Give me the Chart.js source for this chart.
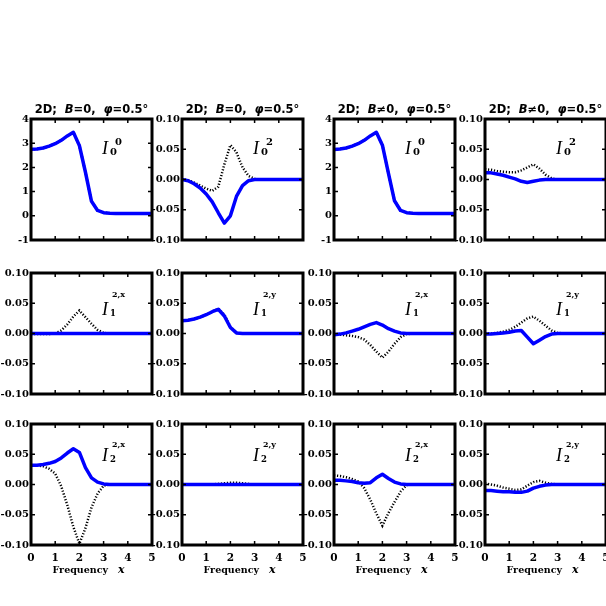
<!DOCTYPE html>
<html>
<head>
<meta charset="utf-8">
<script src="https://cdn.jsdelivr.net/npm/chart.js@4"></script>
<style>
html, body { margin: 0; padding: 0; background: #fff; overflow: hidden; width: 606px; height: 606px; position: relative; }
canvas { position: absolute; top: 0; }
</style>
</head>
<body>
<div id="wrap"></div>
<script>
// frequency grid (x)
const freq = [0, 0.25, 0.5, 0.75, 1, 1.25, 1.5, 1.75, 2, 2.25, 2.5, 2.75, 3, 3.25, 3.5, 3.75, 4, 4.25, 4.5, 4.75, 5];

// tick labels
const xTicks = [0, 1, 2, 3, 4, 5];
const yTicksI00 = [-1, 0, 1, 2, 3, 4];
const yTicksSmall = [-0.10, -0.05, 0.00, 0.05, 0.10];

// column headers
const fieldText = ['=0', '=0', '\u22600', '\u22600'];

// row 1 : I_0^0 and I_0^2
const i00_B0_solid  = [2.75, 2.76, 2.80, 2.88, 2.98, 3.12, 3.30, 3.45, 2.90, 1.80, 0.60, 0.22, 0.13, 0.11, 0.10, 0.10, 0.09, 0.09, 0.09, 0.09, 0.09];
const i00_B0_dot    = [2.74, 2.76, 2.80, 2.88, 2.98, 3.12, 3.30, 3.45, 2.90, 1.80, 0.60, 0.22, 0.13, 0.11, 0.10, 0.10, 0.09, 0.09, 0.09, 0.09, 0.09];
const i02_B0_solid  = [0, -0.002, -0.007, -0.014, -0.024, -0.037, -0.055, -0.072, -0.060, -0.028, -0.010, -0.002, 0, 0, 0, 0, 0, 0, 0, 0, 0];
const i02_B0_dot    = [0, -0.001, -0.005, -0.010, -0.015, -0.019, -0.012, 0.025, 0.057, 0.045, 0.020, 0.006, 0.001, 0, 0, 0, 0, 0, 0, 0, 0];
const i00_B1_solid  = [2.74, 2.76, 2.80, 2.88, 2.98, 3.12, 3.30, 3.45, 2.92, 1.75, 0.62, 0.22, 0.13, 0.11, 0.10, 0.10, 0.09, 0.09, 0.09, 0.09, 0.09];
const i00_B1_dot    = [2.73, 2.76, 2.80, 2.88, 2.98, 3.12, 3.30, 3.45, 2.92, 1.75, 0.62, 0.22, 0.13, 0.11, 0.10, 0.10, 0.09, 0.09, 0.09, 0.09, 0.09];
const i02_B1_solid  = [0.011, 0.011, 0.009, 0.007, 0.004, 0.001, -0.003, -0.005, -0.003, -0.001, 0, 0, 0, 0, 0, 0, 0, 0, 0, 0, 0];
const i02_B1_dot    = [0.017, 0.016, 0.014, 0.013, 0.012, 0.012, 0.015, 0.020, 0.025, 0.018, 0.008, 0.002, 0, 0, 0, 0, 0, 0, 0, 0, 0];

// row 2 : I_1^{2,x} and I_1^{2,y}
const i12x_B0_solid = [0, 0, 0, 0, 0, 0, 0, 0, 0, 0, 0, 0, 0, 0, 0, 0, 0, 0, 0, 0, 0];
const i12x_B0_dot   = [-0.001, -0.001, -0.001, -0.001, 0, 0.005, 0.015, 0.028, 0.038, 0.027, 0.016, 0.006, 0.001, 0, 0, 0, 0, 0, 0, 0, 0];
const i12y_B0_solid = [0.021, 0.022, 0.024, 0.027, 0.031, 0.036, 0.040, 0.029, 0.010, 0.001, 0, 0, 0, 0, 0, 0, 0, 0, 0, 0, 0];
const i12y_B0_dot   = [0.021, 0.022, 0.024, 0.027, 0.031, 0.036, 0.041, 0.031, 0.011, 0.001, 0, 0, 0, 0, 0, 0, 0, 0, 0, 0, 0];
const i12x_B1_solid = [-0.002, -0.001, 0.001, 0.004, 0.007, 0.011, 0.015, 0.018, 0.014, 0.008, 0.004, 0.001, 0, 0, 0, 0, 0, 0, 0, 0, 0];
const i12x_B1_dot   = [-0.002, -0.002, -0.003, -0.004, -0.006, -0.010, -0.019, -0.030, -0.040, -0.030, -0.017, -0.006, -0.001, 0, 0, 0, 0, 0, 0, 0, 0];
const i12y_B1_solid = [-0.001, -0.001, 0, 0.001, 0.002, 0.004, 0.005, -0.006, -0.017, -0.011, -0.005, -0.001, 0, 0, 0, 0, 0, 0, 0, 0, 0];
const i12y_B1_dot   = [0, 0, 0.001, 0.003, 0.006, 0.011, 0.018, 0.025, 0.028, 0.021, 0.013, 0.005, 0.001, 0, 0, 0, 0, 0, 0, 0, 0];

// row 3 : I_2^{2,x} and I_2^{2,y}
const i22x_B0_solid = [0.032, 0.032, 0.033, 0.035, 0.038, 0.044, 0.052, 0.059, 0.053, 0.028, 0.011, 0.004, 0.001, 0, 0, 0, 0, 0, 0, 0, 0];
const i22x_B0_dot   = [0.032, 0.032, 0.030, 0.026, 0.018, -0.003, -0.034, -0.070, -0.098, -0.072, -0.038, -0.015, -0.002, 0, 0, 0, 0, 0, 0, 0, 0];
const i22y_B0_solid = [0, 0, 0, 0, 0, 0, 0, 0, 0, 0, 0, 0, 0, 0, 0, 0, 0, 0, 0, 0, 0];
const i22y_B0_dot   = [0, 0, 0, 0, 0, 0, 0.001, 0.002, 0.003, 0.003, 0.002, 0.001, 0, 0, 0, 0, 0, 0, 0, 0, 0];
const i22x_B1_solid = [0.007, 0.007, 0.006, 0.005, 0.003, 0.002, 0.003, 0.011, 0.017, 0.010, 0.004, 0.001, 0, 0, 0, 0, 0, 0, 0, 0, 0];
const i22x_B1_dot   = [0.015, 0.014, 0.012, 0.009, 0.005, -0.006, -0.025, -0.048, -0.068, -0.047, -0.029, -0.012, -0.001, 0, 0, 0, 0, 0, 0, 0, 0];
const i22y_B1_solid = [-0.010, -0.010, -0.011, -0.012, -0.012, -0.013, -0.013, -0.011, -0.006, -0.003, -0.001, 0, 0, 0, 0, 0, 0, 0, 0, 0, 0];
const i22y_B1_dot   = [0.002, 0, -0.002, -0.005, -0.007, -0.009, -0.008, -0.002, 0.004, 0.006, 0.003, 0.001, 0, 0, 0, 0, 0, 0, 0, 0, 0];

const subText = ['0', '1', '2'];
const supText = [['0', '2', '0', '2'], ['2,x', '2,y', '2,x', '2,y'], ['2,x', '2,y', '2,x', '2,y']];

const panels = [
  [[i00_B0_solid, i00_B0_dot], [i02_B0_solid, i02_B0_dot], [i00_B1_solid, i00_B1_dot], [i02_B1_solid, i02_B1_dot]],
  [[i12x_B0_solid, i12x_B0_dot], [i12y_B0_solid, i12y_B0_dot], [i12x_B1_solid, i12x_B1_dot], [i12y_B1_solid, i12y_B1_dot]],
  [[i22x_B0_solid, i22x_B0_dot], [i22y_B0_solid, i22y_B0_dot], [i22x_B1_solid, i22x_B1_dot], [i22y_B1_solid, i22y_B1_dot]]
];

// layout (page coordinates); canvases are shifted left by OFF so labels of the first column can spill off the page
const OFF = 30;
const W = 606 + OFF + 40, H = 606;
const colLeft = [31, 182, 334, 485];
const rowTop = [119, 273, 424];
const boxW = 121, boxH = 121;
const yAxisW = 40, xAxisH = 20;

function drawRuns(ctx, runs, x, y, center) {
  let total = 0;
  runs.forEach(r => { ctx.font = r.font; r.w = ctx.measureText(r.text).width; total += r.w; });
  let cx = center ? x - total / 2 : x;
  runs.forEach(r => { ctx.font = r.font; ctx.fillText(r.text, cx, y); cx += r.w; });
}

const boxPlugin = {
  id: 'box',
  afterDraw(chart) {
    const { ctx, chartArea: a, scales } = chart;
    const p = chart.options.plugins.box;
    ctx.save();
    ctx.strokeStyle = '#000';
    ctx.lineWidth = 1.5;
    ctx.beginPath();
    scales.x.ticks.forEach(t => {
      const px = scales.x.getPixelForValue(t.value);
      ctx.moveTo(px, a.bottom); ctx.lineTo(px, a.bottom - 4);
      ctx.moveTo(px, a.top); ctx.lineTo(px, a.top + 4);
    });
    scales.y.ticks.forEach(t => {
      const py = scales.y.getPixelForValue(t.value);
      ctx.moveTo(a.left, py); ctx.lineTo(a.left + 4, py);
      ctx.moveTo(a.right, py); ctx.lineTo(a.right - 4, py);
    });
    ctx.stroke();
    ctx.lineWidth = 3;
    ctx.strokeRect(a.left, a.top, a.right - a.left, a.bottom - a.top);

    ctx.fillStyle = '#000';
    ctx.textBaseline = 'alphabetic';
    const cx = (a.left + a.right) / 2;
    if (p.row === 0) {
      const f = 'bold 11.5px "DejaVu Sans"', fi = 'italic bold 11.5px "DejaVu Sans"';
      drawRuns(ctx, [
        { text: '2D;  ', font: f }, { text: 'B', font: fi }, { text: fieldText[p.col] + ',  ', font: f },
        { text: '\u03c6', font: fi }, { text: '=0.5\u00b0', font: f }
      ], cx, a.top - 6, true);
    }
    if (p.row === 2) {
      drawRuns(ctx, [
        { text: 'Frequency   ', font: 'bold 9.5px "DejaVu Serif"' },
        { text: 'x', font: 'italic bold 11px "DejaVu Serif"' }
      ], cx - 3, a.bottom + 28, true);
    }
    // Stokes label
    const lx = a.left + 71;
    const base = [35, 42, 37][p.row];
    ctx.font = 'italic 18px "Liberation Serif"';
    ctx.fillText('I', lx, a.top + base);
    const sf = p.row === 0 ? 'bold 10px "DejaVu Serif"' : 'bold 8.5px "DejaVu Serif"';
    const pf = p.row === 0 ? 'bold 10px "DejaVu Serif"' : 'bold 8px "DejaVu Serif"';
    ctx.font = sf;
    ctx.fillText(subText[p.row], lx + 8, a.top + base + 1);
    ctx.font = pf;
    ctx.fillText(supText[p.row][p.col], lx + (p.row === 0 ? 13 : 10), a.top + [26, 24, 23][p.row]);
    ctx.restore();
  }
};

const wrap = document.getElementById('wrap');
panels.forEach((rowP, r) => {
  rowP.forEach((pair, c) => {
    const cv = document.createElement('canvas');
    cv.width = W; cv.height = H;
    cv.style.width = W + 'px'; cv.style.height = H + 'px';
    cv.style.left = (-OFF) + 'px';
    wrap.appendChild(cv);
    const yT = (r === 0 && (c === 0 || c === 2)) ? yTicksI00 : yTicksSmall;
    const big = yT === yTicksI00;
    const bottomAxis = r === 2;
    const left = colLeft[c] + OFF;
    new Chart(cv, {
      type: 'line',
      data: {
        datasets: [
          { data: freq.map((x, i) => ({ x, y: pair[0][i] })), borderColor: '#0000ff', borderWidth: 3.5, pointRadius: 0, fill: false, tension: 0, borderJoinStyle: 'round' },
          { data: freq.map((x, i) => ({ x, y: pair[1][i] })), borderColor: '#000', borderWidth: 2.5, borderDash: [1.2, 1.8], pointRadius: 0, fill: false, tension: 0 }
        ]
      },
      options: {
        responsive: false,
        animation: false,
        events: [],
        layout: {
          padding: {
            left: left - yAxisW,
            top: rowTop[r],
            right: W - left - boxW,
            bottom: H - rowTop[r] - boxH - (bottomAxis ? xAxisH : 0)
          }
        },
        plugins: { legend: { display: false }, tooltip: { enabled: false }, box: { row: r, col: c } },
        scales: {
          x: {
            type: 'linear', min: xTicks[0], max: xTicks[xTicks.length - 1],
            grid: { display: false, drawTicks: false }, border: { display: false },
            afterBuildTicks: s => { s.ticks = xTicks.map(v => ({ value: v })); },
            afterFit: s => { s.height = bottomAxis ? xAxisH : 0; },
            ticks: { display: bottomAxis, padding: 7, color: '#000', font: { family: 'DejaVu Serif', weight: 'bold', size: 10.5 }, maxRotation: 0 }
          },
          y: {
            type: 'linear', min: yT[0], max: yT[yT.length - 1],
            grid: { display: false, drawTicks: false }, border: { display: false },
            afterBuildTicks: s => { s.ticks = yT.map(v => ({ value: v })); },
            afterFit: s => { s.width = yAxisW; },
            ticks: {
              padding: 2, color: '#000', font: { family: 'DejaVu Serif', weight: 'bold', size: 10 },
              callback: v => big ? String(v) : (Math.abs(v) < 1e-9 ? '0.00' : v.toFixed(2))
            }
          }
        }
      },
      plugins: [boxPlugin]
    });
  });
});
</script>
</body>
</html>
